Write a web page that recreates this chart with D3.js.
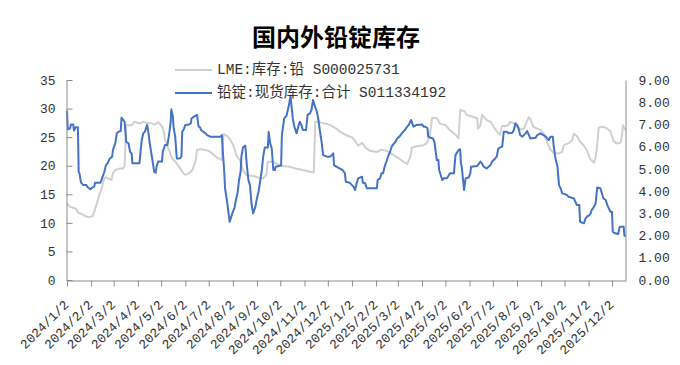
<!DOCTYPE html>
<html>
<head>
<meta charset="utf-8">
<script src="https://cdn.jsdelivr.net/npm/d3@7/dist/d3.min.js"></script>
<style>
  html, body { margin: 0; padding: 0; background: #fff; }
  svg { display: block; }
</style>
</head>
<body>
<div id="chart"></div>
<script>
// ---------- DATA ----------
const chartTitle = "国内外铅锭库存";
const seriesNames = ["LME:库存:铅 S000025731", "铅锭:现货库存:合计 S011334192"];

const xTickLabels = ["2024/1/2","2024/2/2","2024/3/2","2024/4/2","2024/5/2","2024/6/2","2024/7/2","2024/8/2","2024/9/2","2024/10/2","2024/11/2","2024/12/2",
  "2025/1/2","2025/2/2","2025/3/2","2025/4/2","2025/5/2","2025/6/2","2025/7/2","2025/8/2","2025/9/2","2025/10/2","2025/11/2","2025/12/2"];
const leftTicks = [0,5,10,15,20,25,30,35];
const rightTicks = [0,1,2,3,4,5,6,7,8,9];

// LME lead stocks (left axis)
const lmeDates = ["2024-01-02","2024-01-06","2024-01-13","2024-01-17","2024-01-21","2024-01-25","2024-01-30","2024-02-04","2024-02-06","2024-02-08",
  "2024-02-10","2024-02-13","2024-02-15","2024-02-17","2024-02-19","2024-02-21","2024-02-23","2024-02-28","2024-03-01","2024-03-04",
  "2024-03-10","2024-03-14","2024-03-16","2024-03-18","2024-03-25","2024-03-29","2024-04-05","2024-04-09","2024-04-13","2024-04-20",
  "2024-04-24","2024-04-28","2024-05-03","2024-05-05","2024-05-07","2024-05-12","2024-05-16","2024-05-20","2024-05-25","2024-05-29",
  "2024-06-02","2024-06-07","2024-06-11","2024-06-15","2024-06-17","2024-06-22","2024-06-28","2024-07-02","2024-07-06","2024-07-11",
  "2024-07-15","2024-07-19","2024-07-21","2024-07-26","2024-07-30","2024-08-03","2024-08-07","2024-08-11","2024-08-15","2024-08-19",
  "2024-08-23","2024-08-29","2024-09-06","2024-09-10","2024-09-14","2024-09-16","2024-09-21","2024-09-28","2024-10-05","2024-10-14",
  "2024-10-22","2024-10-31","2024-11-09","2024-11-14","2024-11-16","2024-11-20","2024-11-24","2024-12-01","2024-12-05","2024-12-13",
  "2024-12-17","2024-12-26","2025-01-02","2025-01-06","2025-01-10","2025-01-15","2025-01-19","2025-01-25","2025-02-03","2025-02-09",
  "2025-02-16","2025-02-24","2025-03-03","2025-03-09","2025-03-14","2025-03-18","2025-03-20","2025-03-26","2025-04-04","2025-04-08",
  "2025-04-12","2025-04-15","2025-04-21","2025-04-25","2025-05-02","2025-05-08","2025-05-15","2025-05-19","2025-05-21","2025-05-27",
  "2025-05-29","2025-06-05","2025-06-12","2025-06-13","2025-06-16","2025-06-18","2025-06-24","2025-06-29","2025-07-03","2025-07-07",
  "2025-07-11","2025-07-14","2025-07-18","2025-07-22","2025-07-24","2025-07-28","2025-08-02","2025-08-06","2025-08-11","2025-08-17",
  "2025-08-19","2025-08-23","2025-08-28","2025-09-01","2025-09-05","2025-09-10","2025-09-14","2025-09-18","2025-09-25","2025-09-29",
  "2025-10-01","2025-10-07","2025-10-12","2025-10-14","2025-10-18","2025-10-22","2025-10-27","2025-10-31","2025-11-04","2025-11-09",
  "2025-11-11","2025-11-13","2025-11-15","2025-11-21","2025-11-26","2025-11-30","2025-12-02","2025-12-04","2025-12-08","2025-12-13",
  "2025-12-15","2025-12-16","2025-12-18","2025-12-20"];
const lmeValues = [13.4,12.8,12.5,11.7,11.6,11.2,11.0,11.2,11.95,12.8,
  13.7,15.2,15.7,16.9,17.8,18.0,17.8,17.5,18.7,19.25,
  19.5,19.5,19.95,27.1,27.1,27.7,27.4,27.7,27.5,27.4,
  27.2,27.6,26.9,26.2,24.5,22.75,21.3,20.7,19.8,18.95,
  18.4,18.7,19.25,20.7,22.75,22.9,22.75,22.6,22.2,21.6,
  21.3,21.0,25.5,25.2,24.5,23.4,21.7,21.0,19.25,18.4,
  18.3,18.2,17.8,17.8,18.4,20.7,20.7,20.3,19.95,19.8,
  19.5,19.25,18.95,18.8,27.7,27.7,27.5,27.3,27.1,26.5,
  26.0,25.3,25.0,24.3,23.5,24.0,23.2,22.6,22.4,22.8,
  22.6,21.9,21.3,20.7,20.3,21.6,23.2,23.4,23.6,23.9,
  25.4,28.4,28.3,27.4,27.1,26.2,25.4,24.8,29.75,29.5,
  28.9,28.6,28.3,26.5,27.0,28.9,28.0,27.7,26.8,26.0,
  25.4,27.0,26.9,27.1,27.7,27.5,26.8,26.3,26.5,28.5,
  28.2,26.8,26.5,26.3,25.7,24.0,22.8,22.2,22.2,22.4,
  23.6,23.9,24.5,25.6,25.2,24.2,23.5,22.6,21.2,20.5,
  21.5,23.5,26.7,26.8,26.5,26.0,25.2,24.3,23.9,24.0,
  25.5,27.1,26.5,26.25];

// China lead ingot spot stocks (right axis)
const spotDates = ["2024-01-02","2024-01-03","2024-01-06","2024-01-07","2024-01-10","2024-01-11","2024-01-13","2024-01-16","2024-01-17","2024-01-18",
  "2024-01-20","2024-01-23","2024-01-27","2024-01-28","2024-02-01","2024-02-04","2024-02-06","2024-02-07","2024-02-14","2024-02-16",
  "2024-02-19","2024-02-21","2024-02-23","2024-02-26","2024-02-29","2024-03-01","2024-03-04","2024-03-06","2024-03-08","2024-03-11",
  "2024-03-12","2024-03-14","2024-03-16","2024-03-18","2024-03-21","2024-03-23","2024-03-25","2024-03-26","2024-04-04","2024-04-07",
  "2024-04-09","2024-04-11","2024-04-14","2024-04-16","2024-04-17","2024-04-21","2024-04-23","2024-04-25","2024-04-26","2024-04-28",
  "2024-05-03","2024-05-04","2024-05-07","2024-05-10","2024-05-12","2024-05-14","2024-05-15","2024-05-17","2024-05-18","2024-05-20",
  "2024-05-22","2024-05-26","2024-05-28","2024-05-29","2024-05-31","2024-06-02","2024-06-07","2024-06-09","2024-06-10","2024-06-13",
  "2024-06-17","2024-06-19","2024-06-21","2024-06-22","2024-06-28","2024-06-30","2024-07-04","2024-07-17","2024-07-19","2024-07-20",
  "2024-07-22","2024-07-23","2024-07-25","2024-07-27","2024-07-29","2024-07-31","2024-08-02","2024-08-04","2024-08-06","2024-08-08",
  "2024-08-10","2024-08-12","2024-08-13","2024-08-15","2024-08-18","2024-08-20","2024-08-22","2024-08-24","2024-08-26","2024-08-28",
  "2024-08-31","2024-09-02","2024-09-04","2024-09-06","2024-09-08","2024-09-10","2024-09-12","2024-09-16","2024-09-17","2024-09-19",
  "2024-09-21","2024-09-23","2024-09-25","2024-09-26","2024-10-03","2024-10-04","2024-10-07","2024-10-10","2024-10-13","2024-10-15",
  "2024-10-16","2024-10-18","2024-10-20","2024-10-23","2024-10-25","2024-10-27","2024-10-29","2024-10-31","2024-11-04","2024-11-06",
  "2024-11-09","2024-11-11","2024-11-13","2024-11-15","2024-11-18","2024-11-20","2024-11-22","2024-11-24","2024-11-26","2024-12-01",
  "2024-12-05","2024-12-07","2024-12-09","2024-12-10","2024-12-13","2024-12-17","2024-12-21","2024-12-24","2024-12-25","2024-12-30",
  "2025-01-02","2025-01-04","2025-01-06","2025-01-08","2025-01-10","2025-01-15","2025-01-16","2025-01-19","2025-01-21","2025-02-03",
  "2025-02-04","2025-02-07","2025-02-09","2025-02-11","2025-02-13","2025-02-16","2025-02-18","2025-02-20","2025-02-22","2025-02-24",
  "2025-02-27","2025-03-01","2025-03-04","2025-03-07","2025-03-11","2025-03-14","2025-03-16","2025-03-19","2025-03-22","2025-03-26",
  "2025-04-02","2025-04-04","2025-04-06","2025-04-09","2025-04-10","2025-04-13","2025-04-16","2025-04-18","2025-04-21","2025-04-23",
  "2025-04-24","2025-04-28","2025-04-30","2025-05-04","2025-05-08","2025-05-13","2025-05-15","2025-05-19","2025-05-21","2025-05-22",
  "2025-05-23","2025-05-26","2025-05-28","2025-06-01","2025-06-03","2025-06-04","2025-06-12","2025-06-16","2025-06-18","2025-06-20",
  "2025-06-24","2025-06-29","2025-07-01","2025-07-05","2025-07-07","2025-07-09","2025-07-14","2025-07-16","2025-07-20","2025-07-22",
  "2025-07-27","2025-07-29","2025-07-31","2025-08-02","2025-08-04","2025-08-06","2025-08-09","2025-08-13","2025-08-15","2025-08-17",
  "2025-08-19","2025-08-26","2025-08-28","2025-09-01","2025-09-05","2025-09-08","2025-09-10","2025-09-12","2025-09-14","2025-09-17",
  "2025-09-18","2025-09-20","2025-09-23","2025-09-25","2025-09-27","2025-09-29","2025-10-05","2025-10-07","2025-10-14","2025-10-16",
  "2025-10-18","2025-10-21","2025-10-22","2025-10-27","2025-10-29","2025-10-31","2025-11-04","2025-11-06","2025-11-09","2025-11-11",
  "2025-11-13","2025-11-17","2025-11-19","2025-11-21","2025-11-24","2025-11-26","2025-11-30","2025-12-02","2025-12-03","2025-12-06",
  "2025-12-10","2025-12-12","2025-12-17","2025-12-18","2025-12-20"];
const spotValues = [7.62,6.78,6.83,7.0,7.0,6.72,6.87,6.87,4.87,4.80,
  4.38,4.27,4.27,4.2,4.08,4.17,4.2,4.38,4.38,4.57,
  4.87,5.17,5.25,5.47,5.55,5.85,6.15,6.6,6.67,6.7,
  7.3,7.22,7.12,6.22,6.15,5.77,5.7,5.25,5.25,6.3,
  6.6,6.67,6.98,6.52,6.22,5.33,4.87,4.83,5.1,5.33,
  5.33,5.77,6.08,6.08,6.52,7.05,7.68,7.35,6.83,6.45,
  5.47,5.47,5.55,6.67,6.78,6.98,7.0,7.05,7.27,7.35,
  7.43,6.9,6.87,6.75,6.6,6.52,6.45,6.45,6.52,5.85,
  4.87,4.13,3.68,3.15,2.62,2.85,3.07,3.22,3.6,3.9,
  4.5,4.87,5.55,5.96,6.05,5.17,4.5,4.27,3.45,3.0,
  3.3,3.68,3.97,4.42,4.87,5.55,5.96,5.96,6.67,6.15,
  5.92,4.95,4.95,5.1,5.15,6.52,7.27,7.4,7.85,8.3,
  7.95,7.27,6.9,6.6,6.9,7.12,6.98,6.75,6.75,7.43,
  7.5,7.65,8.1,7.87,7.57,7.2,6.67,6.22,5.62,5.55,
  5.55,5.62,5.7,5.17,5.1,5.02,4.95,4.8,4.42,4.38,
  4.27,4.2,4.05,4.35,4.57,4.65,4.38,4.35,4.13,4.13,
  4.5,4.57,4.8,4.8,5.1,5.4,5.62,5.77,6.0,6.1,
  6.22,6.37,6.45,6.6,6.75,6.9,6.98,7.2,6.9,6.98,
  7.0,6.9,6.9,6.83,6.45,6.4,6.37,6.2,5.4,5.4,
  4.95,4.5,4.58,4.58,4.8,4.8,5.62,5.85,5.88,5.25,
  5.1,4.05,4.57,4.62,4.8,5.1,5.13,5.33,5.25,5.1,
  5.02,5.17,5.33,5.47,5.55,5.92,6.0,6.67,6.67,6.6,
  6.63,6.75,7.05,6.98,6.83,6.52,6.45,6.6,6.7,6.55,
  6.37,6.4,6.52,6.6,6.52,6.45,6.37,6.3,6.45,6.45,
  6.08,5.55,5.1,4.27,4.13,3.9,3.83,3.75,3.67,3.52,
  3.37,3.37,2.62,2.55,2.77,2.85,2.95,3.15,3.3,3.45,
  4.16,4.13,3.9,3.67,3.6,3.37,3.07,3.07,2.17,2.1,
  2.07,2.4,2.4,1.99,1.99];

// ---------- CHART ----------
const W = 680, H = 365;
const parse = d3.timeParse("%Y-%m-%d");
const lme = lmeDates.map((d, i) => ({ date: parse(d), v: lmeValues[i] }));
const spot = spotDates.map((d, i) => ({ date: parse(d), v: spotValues[i] }));
const tickDates = xTickLabels.map(s => d3.timeParse("%Y/%m/%d")(s));

const plot = { left: 67, right: 626, top: 80, bottom: 280 };
const x = d3.scaleTime()
  .domain([parse("2024-01-02"), parse("2025-12-20")])
  .range([plot.left, plot.right]);
const yL = d3.scaleLinear().domain([0, 35]).range([plot.bottom, plot.top]);
const yR = d3.scaleLinear().domain([0, 9]).range([plot.bottom, plot.top]);

const svg = d3.select("#chart").append("svg")
  .attr("width", W).attr("height", H)
  .style("background", "#fff");

const monoFont = "'Liberation Mono', 'Noto Sans CJK SC', monospace";
const axisColor = "#8c8c8c";
const textColor = "#333";

// title
svg.append("text")
  .attr("x", 336).attr("y", 35)
  .attr("text-anchor", "middle")
  .attr("dominant-baseline", "central")
  .style("font-family", "'Noto Sans CJK SC', sans-serif")
  .style("font-weight", "bold")
  .style("font-size", "24px")
  .style("fill", "#000")
  .text(chartTitle);

// lines
const lineL = d3.line().x(d => x(d.date)).y(d => yL(d.v));
const lineR = d3.line().x(d => x(d.date)).y(d => yR(d.v));

svg.append("path").datum(lme)
  .attr("d", lineL)
  .attr("fill", "none")
  .attr("stroke", "#d0d0d0")
  .attr("stroke-width", 2)
  .attr("stroke-linejoin", "round");

svg.append("path").datum(spot)
  .attr("d", lineR)
  .attr("fill", "none")
  .attr("stroke", "#4472c4")
  .attr("stroke-width", 2)
  .attr("stroke-linejoin", "round");

// axes
function styleAxis(g) {
  g.selectAll(".domain").attr("stroke", axisColor);
  g.selectAll(".tick line").attr("stroke", axisColor);
  g.selectAll(".tick text")
    .style("font-family", monoFont)
    .style("font-size", "13px")
    .attr("fill", textColor);
}

const gL = svg.append("g")
  .attr("transform", `translate(${plot.left - 0.5},0)`)
  .call(d3.axisLeft(yL).tickValues(leftTicks).tickSizeInner(-6).tickSizeOuter(0).tickPadding(11).tickFormat(d3.format("d")));
styleAxis(gL);

const gR = svg.append("g")
  .attr("transform", `translate(${plot.right - 0.5},0)`)
  .call(d3.axisRight(yR).tickValues(rightTicks).tickSizeInner(0).tickSizeOuter(0).tickPadding(13).tickFormat(d3.format(".2f")));
styleAxis(gR);

const gB = svg.append("g")
  .attr("transform", `translate(0,${plot.bottom + 0.5})`)
  .call(d3.axisBottom(x).tickValues(tickDates).tickSizeInner(6).tickSizeOuter(0)
    .tickFormat((d, i) => xTickLabels[i]));
styleAxis(gB);
gB.selectAll(".tick text")
  .attr("y", 0).attr("dy", 0)
  .attr("text-anchor", "end")
  .attr("transform", "translate(2,25) rotate(-45)");

// legend
const legend = [
  { name: seriesNames[0], color: "#d0d0d0", y: 70 },
  { name: seriesNames[1], color: "#4472c4", y: 93 }
];
const lg = svg.append("g");
legend.forEach(l => {
  lg.append("line")
    .attr("x1", 175).attr("x2", 212)
    .attr("y1", l.y).attr("y2", l.y)
    .attr("stroke", l.color).attr("stroke-width", 2);
  lg.append("text")
    .attr("x", 217).attr("y", l.y)
    .attr("dominant-baseline", "central")
    .style("font-family", monoFont)
    .style("font-size", "14.5px")
    .attr("fill", textColor)
    .text(l.name);
});
</script>
</body>
</html>
